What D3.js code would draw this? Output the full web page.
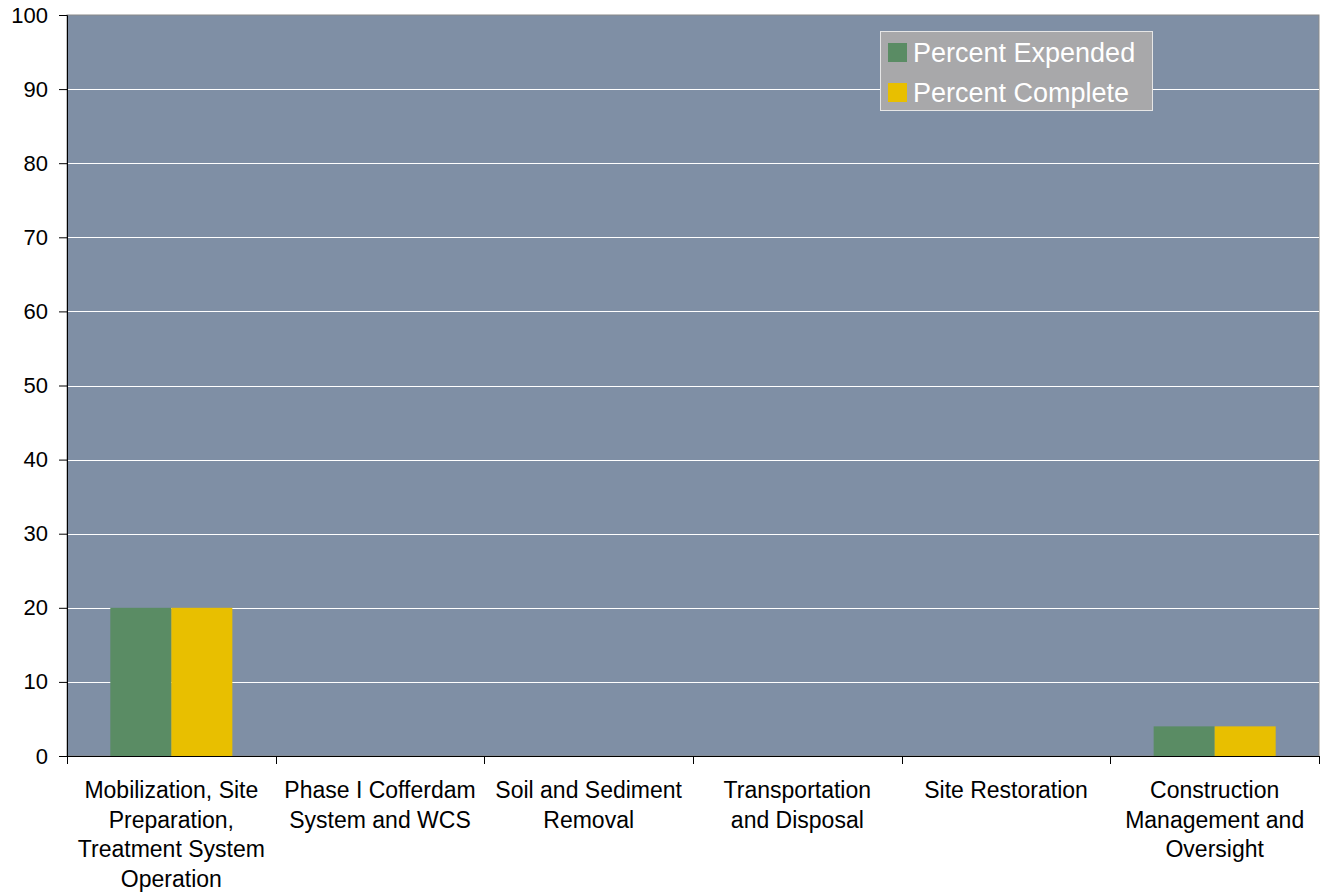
<!DOCTYPE html>
<html>
<head>
<meta charset="utf-8">
<script src="https://cdn.jsdelivr.net/npm/d3@7"></script>
<style>
  body { margin: 0; background: #fff; }
  text { font-family: "Liberation Sans", Arial, sans-serif; }
</style>
</head>
<body>
<div id="chart"></div>
<script>
// chart values
const categories = [
    ["Mobilization, Site", "Preparation,", "Treatment System", "Operation"],
    ["Phase I Cofferdam", "System and WCS"],
    ["Soil and Sediment", "Removal"],
    ["Transportation", "and Disposal"],
    ["Site Restoration"],
    ["Construction", "Management and", "Oversight"]
];
const seriesNames = ["Percent Expended", "Percent Complete"];
const percentExpended = [20, 0, 0, 0, 0, 4];
const percentComplete = [20, 0, 0, 0, 0, 4];
const yTicks = [0, 10, 20, 30, 40, 50, 60, 70, 80, 90, 100];
const colors = ["#5a8c64", "#e8bf00"];

const width = 1325, height = 896;
const margin = { top: 15, right: 6, bottom: 140, left: 67 };
const innerWidth = width - margin.left - margin.right;
const innerHeight = height - margin.top - margin.bottom;

const svg = d3.select("#chart")
    .append("svg")
    .attr("width", width)
    .attr("height", height);

const inner = svg.append("g")
    .attr("transform", `translate(${margin.left},${margin.top})`);

// scales
const xScale = d3.scaleBand()
    .domain(d3.range(categories.length))
    .range([0, innerWidth]);

const xSub = d3.scaleBand()
    .domain([0, 1])
    .range([0, xScale.bandwidth()])
    .paddingInner(0)
    .paddingOuter(0.71);

const yScale = d3.scaleLinear()
    .domain([0, 100])
    .range([innerHeight, 0]);

// plot background
inner.append("rect")
    .attr("width", innerWidth)
    .attr("height", innerHeight)
    .attr("fill", "#7f8fa5")
    .attr("stroke", "#8a8a8a")
    .attr("stroke-width", 1);

// gridlines
inner.append("g")
    .selectAll("line")
    .data(yTicks.filter(d => d > 0 && d < 100))
    .join("line")
    .attr("x1", 0)
    .attr("x2", innerWidth)
    .attr("y1", d => Math.round(yScale(d)) + 0.5)
    .attr("y2", d => Math.round(yScale(d)) + 0.5)
    .attr("stroke", "#ffffff")
    .attr("stroke-width", 1);

// bars
const rows = categories.map((c, i) => [percentExpended[i], percentComplete[i]]);
const groups = inner.append("g")
    .selectAll("g")
    .data(rows)
    .join("g")
    .attr("transform", (d, i) => `translate(${xScale(i)},0)`);

groups.selectAll("rect")
    .data(d => d.map((v, j) => ({ v, j })))
    .join("rect")
    .attr("x", d => xSub(d.j))
    .attr("width", xSub.bandwidth())
    .attr("y", d => yScale(d.v))
    .attr("height", d => innerHeight - yScale(d.v))
    .attr("fill", d => colors[d.j]);

// y axis
const yAxis = inner.append("g")
    .call(d3.axisLeft(yScale).tickValues(yTicks).tickSize(8).tickPadding(11));
yAxis.select(".domain").attr("stroke", "#000");
yAxis.selectAll("text")
    .attr("font-size", "22px")
    .attr("fill", "#000");

// x axis
const xAxis = inner.append("g")
    .attr("transform", `translate(0,${innerHeight})`);
xAxis.append("line")
    .attr("x1", 0).attr("x2", innerWidth)
    .attr("y1", 0.5).attr("y2", 0.5)
    .attr("stroke", "#000");
xAxis.selectAll("line.tick")
    .data(d3.range(categories.length + 1))
    .join("line")
    .attr("class", "tick")
    .attr("x1", d => Math.round(d === categories.length ? innerWidth : xScale(d)) + 0.5)
    .attr("x2", d => Math.round(d === categories.length ? innerWidth : xScale(d)) + 0.5)
    .attr("y1", 0).attr("y2", 8)
    .attr("stroke", "#000");

const labels = xAxis.selectAll("text")
    .data(categories)
    .join("text")
    .attr("text-anchor", "middle")
    .attr("font-size", "23px")
    .attr("fill", "#000")
    .attr("transform", (d, i) => `translate(${xScale(i) + xScale.bandwidth() / 2},42)`);

labels.selectAll("tspan")
    .data(d => d)
    .join("tspan")
    .attr("x", 0)
    .attr("dy", (d, i) => i === 0 ? 0 : 29.5)
    .text(d => d);

// legend
const legend = svg.append("g")
    .attr("transform", "translate(880,31)");
legend.append("rect")
    .attr("x", 0.5).attr("y", 0.5)
    .attr("width", 272)
    .attr("height", 79)
    .attr("fill", "#a8a8aa")
    .attr("stroke", "#e6e6e6")
    .attr("stroke-width", 1);

seriesNames.forEach((name, i) => {
    const row = legend.append("g")
        .attr("transform", `translate(8, ${12 + i * 40})`);
    row.append("rect")
        .attr("width", 19)
        .attr("height", 19)
        .attr("fill", colors[i]);
    row.append("text")
        .attr("x", 25)
        .attr("y", 19)
        .attr("font-size", "27px")
        .attr("fill", "#ffffff")
        .text(name);
});
</script>
</body>
</html>
